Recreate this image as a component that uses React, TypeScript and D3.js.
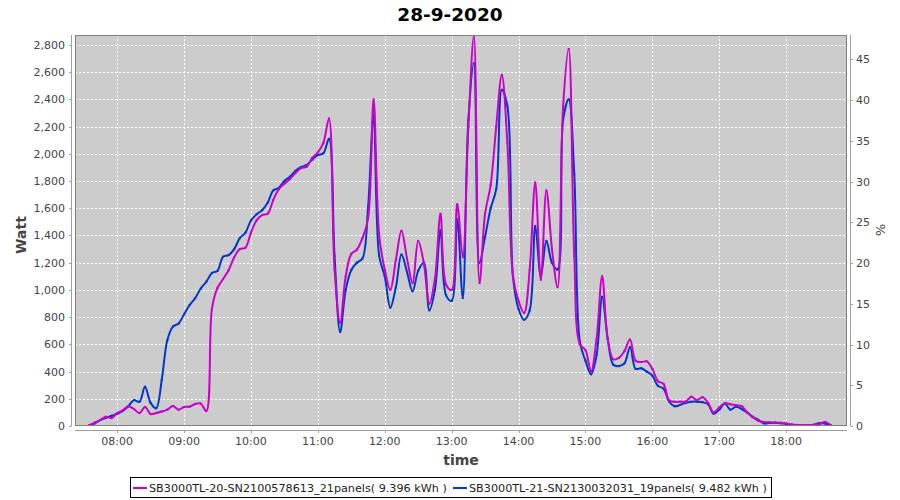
import React from "react";
import * as d3 from "d3";

const TITLE = "28-9-2020";
const START_TIME = "07:35";
const STEP_MINUTES = 5;

const seriesNames = [
  "SB3000TL-20-SN2100578613_21panels( 9.396 kWh )",
  "SB3000TL-21-SN2130032031_19panels( 9.482 kWh )",
];

const magentaValues = [
  7, 25, 44, 68, 58, 95, 115, 145, 125, 95,
  140, 88, 95, 106, 120, 147, 120, 140, 142, 162,
  165, 110, 860, 1015, 1080, 1145, 1240, 1300, 1310, 1420,
  1510, 1550, 1560, 1660, 1740, 1780, 1815, 1860, 1895, 1905,
  1970, 2010, 2080, 2260, 1150, 760, 1100, 1265, 1295, 1380,
  1520, 2400, 1400, 1150, 1000, 1220, 1435, 1230, 1050, 1360,
  1200, 900, 1080, 1560, 1040, 1000, 1630, 1240, 2200, 2870,
  1050, 1560, 1770, 2200, 2580, 2080, 1100, 920, 830, 1150,
  1790, 1075, 1730, 1300, 1020, 2350, 2770, 1250, 600, 558,
  400, 640, 1100, 640, 490, 500, 550, 635, 480, 470,
  475, 420, 330, 310, 190, 178, 178, 180, 215, 190,
  212, 170, 100, 135, 168, 160, 152, 147, 100, 65,
  38, 30, 27, 25, 24, 19, 12, 8, 7, 7,
  7, 15, 30, 7,
];

const blueValues = [
  5, 20, 45, 60, 75, 90, 110, 145, 190, 178,
  289, 170, 130, 338, 630, 730, 752, 820, 889, 940,
  1010, 1060, 1124, 1140, 1244, 1256, 1300, 1380, 1420, 1510,
  1555, 1585, 1640, 1730, 1750, 1800, 1832, 1875, 1903, 1918,
  1958, 1990, 2004, 2110, 1250, 690, 1000, 1146, 1200, 1230,
  1600, 2290, 1250, 1100, 870, 1020, 1260, 1130, 990, 1140,
  1200, 850, 1000, 1440, 960, 920, 1520, 940, 2250, 2665,
  1200, 1390, 1600, 1740, 2470, 2350, 1100, 860, 780, 850,
  1470, 1100, 1360, 1200, 1150, 2250, 2400, 1850, 620, 480,
  380, 520, 950, 640, 450, 440, 460, 580, 420, 424,
  400, 370, 295, 275, 180, 145, 155, 170, 178, 179,
  175, 160, 90, 120, 165, 120, 142, 125, 100, 68,
  45, 20, 22, 24, 20, 15, 8, 6, 6, 6,
  10, 22, 18, 5,
];

const hourTicks = ["08:00", "09:00", "10:00", "11:00", "12:00", "13:00", "14:00", "15:00", "16:00", "17:00", "18:00"];
const wattTicks = [0, 200, 400, 600, 800, 1000, 1200, 1400, 1600, 1800, 2000, 2200, 2400, 2600, 2800];
const pctTicks = [0, 5, 10, 15, 20, 25, 30, 35, 40, 45];

const COLORS = ["#CC00CC", "#0038C8"];

const toMin = (s: string) => {
  const [h, m] = s.split(":").map(Number);
  return h * 60 + m;
};

export default function App() {
  const L = 75, R = 847, T = 35, B = 426;
  const x = d3.scaleLinear().domain([442.2, 1134.6]).range([L, R]);
  const y = d3.scaleLinear().domain([0, 2873]).range([B, T]);
  const y2 = d3.scaleLinear().domain([0, 48]).range([B, T]);
  const start = toMin(START_TIME);

  const mk = (vals: number[]) => vals.map((v, i) => ({ t: start + i * STEP_MINUTES, v }));
  const series = [mk(magentaValues), mk(blueValues)];
  const line = d3
    .line<{ t: number; v: number }>()
    .x((d) => x(d.t))
    .y((d) => y(d.v))
    .curve(d3.curveCatmullRom.alpha(0.5));

  const font = "'DejaVu Sans', sans-serif";
  const tickColor = "#444444";
  const axisColor = "#A0A0A0";

  return (
    <svg width={900} height={500} style={{ position: "absolute", left: 0, top: 0, background: "#fff" }} fontFamily={font}>
      <rect x={0} y={0} width={900} height={500} fill="#ffffff" />
      <text x={450} y={21} textAnchor="middle" fontSize={18.5} fontWeight="bold" fill="#000">{TITLE}</text>

      <defs>
        <clipPath id="plotclip">
          <rect x={L} y={T} width={R - L} height={B - T} />
        </clipPath>
      </defs>
      <rect x={L} y={T} width={R - L} height={B - T} fill="#CCCCCC" />
      <g clipPath="url(#plotclip)">
        {wattTicks.map((w) => (
          <line key={"hg" + w} x1={L} x2={R} y1={Math.round(y(w)) + 0.5} y2={Math.round(y(w)) + 0.5} stroke="#ffffff" strokeWidth={1} strokeDasharray="2,2" />
        ))}
        {hourTicks.map((h) => (
          <line key={"vg" + h} x1={Math.round(x(toMin(h))) + 0.5} x2={Math.round(x(toMin(h))) + 0.5} y1={T} y2={B} stroke="#ffffff" strokeWidth={1} strokeDasharray="2,2" />
        ))}
      </g>
      <g clipPath="url(#plotclip)">
        {[1, 0].map((si) => (
          <g key={"s" + si}>
            <path d={line(series[si]) || ""} fill="none" stroke={COLORS[si]} strokeWidth={2} strokeLinejoin="round" />
            {series[si].map((d, i) => (
              <rect key={i} x={x(d.t) - 1} y={y(d.v) - 1} width={2} height={2} fill={COLORS[si]} />
            ))}
          </g>
        ))}
      </g>
      <rect x={L + 0.5} y={T + 0.5} width={R - L - 1} height={B - T - 1} fill="none" stroke="#808080" strokeWidth={1} />

      {/* left axis */}
      <line x1={71.5} x2={71.5} y1={T} y2={B} stroke={axisColor} />
      {wattTicks.map((w) => (
        <g key={"lt" + w}>
          <line x1={69} x2={71.5} y1={Math.round(y(w)) + 0.5} y2={Math.round(y(w)) + 0.5} stroke={axisColor} />
          <text x={65} y={y(w) + 4} textAnchor="end" fontSize={11} fill={tickColor}>{d3.format(",")(w)}</text>
        </g>
      ))}
      <text transform="translate(26,235) rotate(-90)" textAnchor="middle" fontSize={14} fontWeight="bold" fill="#444">Watt</text>

      {/* right axis */}
      <line x1={850.5} x2={850.5} y1={T} y2={B} stroke={axisColor} />
      {pctTicks.map((p) => (
        <g key={"rt" + p}>
          <line x1={850.5} x2={853} y1={Math.round(y2(p)) + 0.5} y2={Math.round(y2(p)) + 0.5} stroke={axisColor} />
          <text x={856} y={y2(p) + 4} textAnchor="start" fontSize={11} fill={tickColor}>{p}</text>
        </g>
      ))}
      <text transform="translate(876,230) rotate(90)" textAnchor="middle" fontSize={13} fill="#444">%</text>

      {/* bottom axis */}
      <line x1={L} x2={R} y1={430.5} y2={430.5} stroke={axisColor} />
      {hourTicks.map((h) => (
        <g key={"bt" + h}>
          <line x1={Math.round(x(toMin(h))) + 0.5} x2={Math.round(x(toMin(h))) + 0.5} y1={430.5} y2={433} stroke={axisColor} />
          <text x={x(toMin(h))} y={445} textAnchor="middle" fontSize={11} fill={tickColor}>{h}</text>
        </g>
      ))}
      <text x={461} y={465} textAnchor="middle" fontSize={14} fontWeight="bold" fill="#444">time</text>

      {/* legend */}
      <rect x={130.5} y={477.5} width={641} height={20} fill="#fff" stroke="#000" strokeWidth={1} />
      <line x1={133} x2={147} y1={488} y2={488} stroke={COLORS[0]} strokeWidth={2} />
      <text x={149} y={492} fontSize={11.2} fill="#222">{seriesNames[0]}</text>
      <line x1={453} x2={467} y1={488} y2={488} stroke={COLORS[1]} strokeWidth={2} />
      <text x={469} y={492} fontSize={11.2} fill="#222">{seriesNames[1]}</text>
    </svg>
  );
}
